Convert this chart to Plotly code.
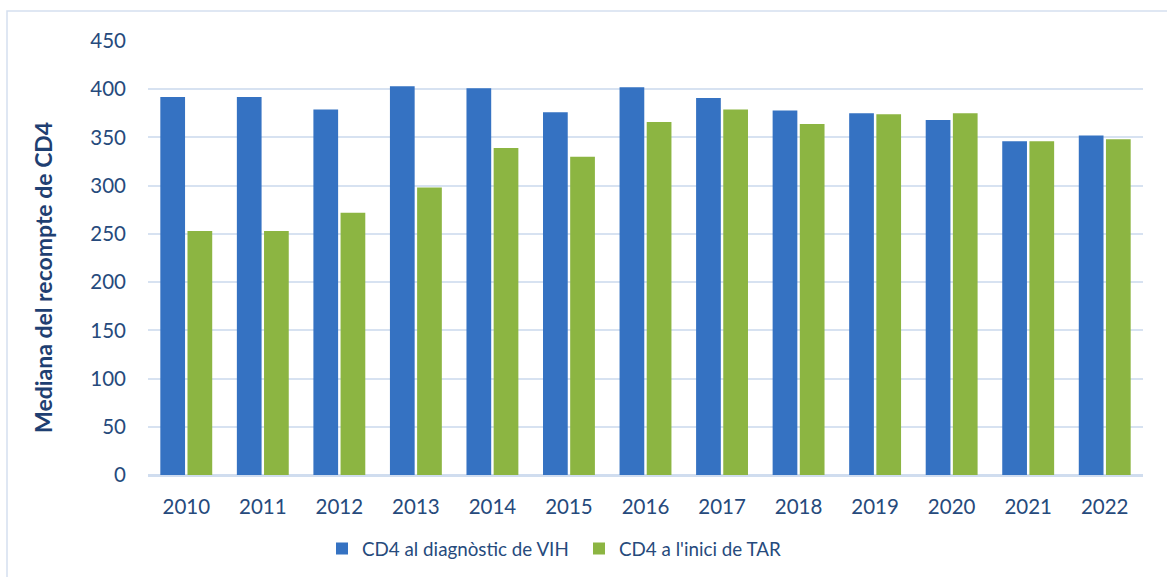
import plotly.graph_objects as go

years = ["2010", "2011", "2012", "2013", "2014", "2015", "2016",
         "2017", "2018", "2019", "2020", "2021", "2022"]
cd4_diag = [392, 392, 379, 403, 401, 376, 402, 391, 378, 375, 368, 346, 352]
cd4_tar = [253, 253, 272, 298, 339, 330, 366, 379, 364, 374, 375, 346, 348]
series_names = ["CD4 al diagnòstic de VIH", "CD4 a l'inici de TAR"]
y_ticks = [0, 50, 100, 150, 200, 250, 300, 350, 400, 450]
y_title = "Mediana del recompte de CD4"

W, H = 1167, 577
L, R, T, B = 148, 24, 41, 102
pw, ph = W - L - R, H - T - B

text_col = "#264a7c"
fnt = "Lato, Carlito, Calibri, sans-serif"

fig = go.Figure()
fig.add_trace(go.Bar(x=years, y=cd4_diag, name=series_names[0],
                     marker=dict(color="#3572c2", line=dict(width=0))))
fig.add_trace(go.Bar(x=years, y=cd4_tar, name=series_names[1],
                     marker=dict(color="#8cb542", line=dict(width=0))))

fig.update_layout(
    width=W, height=H,
    margin=dict(l=L, r=R, t=T, b=B, autoexpand=False),
    paper_bgcolor="white", plot_bgcolor="white",
    barmode="group", bargap=0.29, bargroupgap=0.09,
    font=dict(family=fnt, color=text_col, size=20),
    showlegend=True,
    legend=dict(orientation="h", x=(322 - L) / pw, xanchor="left", y=-0.17, yanchor="middle",
                font=dict(size=18.8, color=text_col), entrywidth=212, entrywidthmode="pixels",
                traceorder="normal", itemsizing="constant"),
    xaxis=dict(showgrid=False, showline=False, ticks="", tickfont=dict(size=20.5),
               ticklabelstandoff=17, automargin=False),
    yaxis=dict(range=[0, 450], tickvals=y_ticks, showgrid=True,
               gridcolor="#d7e2f1", gridwidth=2, zeroline=True,
               zerolinecolor="#d0ddef", zerolinewidth=3,
               ticks="", tickfont=dict(size=20.5), ticklabelstandoff=21,
               automargin=False),
    annotations=[dict(text="<b>" + y_title + "</b>", textangle=-90,
                      xref="paper", yref="paper",
                      x=(43 - L) / pw, y=1 - (278 - T) / ph,
                      xanchor="center", yanchor="middle", showarrow=False,
                      font=dict(size=23, color="#1f3f72", family=fnt))],
    shapes=[dict(type="rect", xref="paper", yref="paper",
                 x0=(7 - L) / pw, x1=(W + 20 - L) / pw,
                 y0=-(H + 20 - T - ph) / ph,
                 y1=1 + (T - 11) / ph,
                 line=dict(color="#d5e0ef", width=1.5), layer="below")],
)

fig.write_html("out.html", config={"displayModeBar": False},
               post_script="document.body.style.margin='0';document.body.style.overflow='hidden';")
